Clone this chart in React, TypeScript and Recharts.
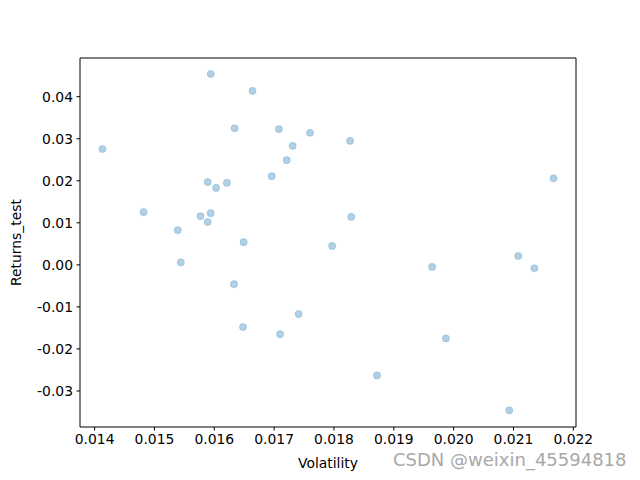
import {
  ScatterChart,
  Scatter,
  XAxis,
  YAxis,
  ReferenceLine,
} from 'recharts';

const volatility = [
  0.01413, 0.01482, 0.01539, 0.01577, 0.01589, 0.01589, 0.01594, 0.01594, 0.01603,
  0.01621, 0.01634, 0.01649, 0.01664, 0.01696, 0.01708, 0.01721, 0.01731, 0.0176,
  0.01544, 0.01633, 0.01648, 0.0171, 0.01741, 0.01827, 0.01829, 0.01797, 0.01964,
  0.02108, 0.02135, 0.02167, 0.01987, 0.01872, 0.02093,
];

const returnsTest = [
  0.02755, 0.01255, 0.00826, 0.0116, 0.0197, 0.0102, 0.0454, 0.0123, 0.0183,
  0.0195, 0.0325, 0.0054, 0.0414, 0.0211, 0.0323, 0.0249, 0.0283, 0.0314,
  0.0006, -0.0046, -0.0148, -0.0165, -0.0117, 0.0295, 0.0114, 0.0045, -0.0005,
  0.0021, -0.0008, 0.0206, -0.0175, -0.0263, -0.0346,
];

const xTicks = [0.014, 0.015, 0.016, 0.017, 0.018, 0.019, 0.02, 0.021, 0.022];
const yTicks = [-0.03, -0.02, -0.01, 0, 0.01, 0.02, 0.03, 0.04];

const X_DOMAIN = [0.013756, 0.022045];
const Y_DOMAIN = [-0.03857, 0.04921];

const data = volatility.map((v, i) => ({ x: v, y: returnsTest[i] }));

const FONT = '"DejaVu Sans", sans-serif';
const tickStyle = { fontSize: 13.9, fill: '#000', fontFamily: FONT };
const axisLine = { stroke: '#000', strokeWidth: 1 };

export default function App() {
  return (
    <div style={{ position: 'absolute', left: 0, top: 0, width: 640, height: 480, background: '#fff' }}>
      <ScatterChart width={640} height={480} margin={{ top: 58, right: 64, left: 10, bottom: 3 }}>
        <XAxis
          type="number"
          dataKey="x"
          domain={X_DOMAIN}
          allowDataOverflow
          ticks={xTicks}
          tickFormatter={(v: number) => v.toFixed(3)}
          tick={tickStyle}
          tickSize={3.5}
          tickMargin={3.5}
          axisLine={axisLine}
          tickLine={axisLine}
          height={50}
          label={{ value: 'Volatility', position: 'insideBottom', offset: 9, style: { ...tickStyle } }}
        />
        <YAxis
          type="number"
          dataKey="y"
          domain={Y_DOMAIN}
          allowDataOverflow
          ticks={yTicks}
          tickFormatter={(v: number) => v.toFixed(2)}
          tick={tickStyle}
          tickSize={3.5}
          tickMargin={3.5}
          axisLine={axisLine}
          tickLine={axisLine}
          width={70}
          label={{
            value: 'Returns_test',
            angle: -90,
            position: 'insideLeft',
            offset: 6,
            style: { ...tickStyle, textAnchor: 'middle' },
          }}
        />
        {/* top and right spines */}
        <ReferenceLine y={Y_DOMAIN[1]} stroke="#000" strokeWidth={1} ifOverflow="visible" />
        <ReferenceLine x={X_DOMAIN[1]} stroke="#000" strokeWidth={1} ifOverflow="visible" />
        <Scatter
          data={data}
          isAnimationActive={false}
          shape={(p: any) => (
            <circle cx={p.cx} cy={p.cy} r={3.6} fill="#1f77b4" fillOpacity={0.35} stroke="#1f77b4" strokeOpacity={0.2} />
          )}
        />
      </ScatterChart>
      <div
        style={{
          position: 'absolute',
          left: 393,
          top: 449,
          fontFamily: FONT,
          fontSize: 18,
          color: '#a8a8a8',
          whiteSpace: 'nowrap',
        }}
      >
        CSDN @weixin_45594818
      </div>
    </div>
  );
}
